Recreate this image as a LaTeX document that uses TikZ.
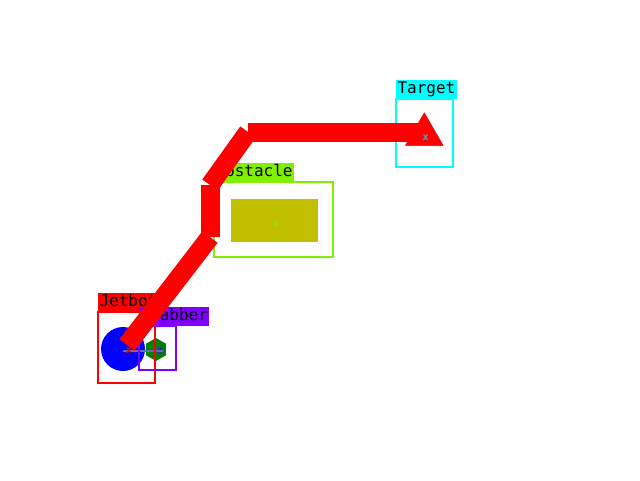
\documentclass[tikz,border=0pt]{standalone}
\usepackage{fontspec}
\newfontfamily\tagfont{DejaVu Sans Mono}
\usetikzlibrary{shapes.geometric,positioning}
\definecolor{botred}{RGB}{255,0,0}
\definecolor{grabpurple}{RGB}{128,0,255}
\definecolor{obstgreen}{RGB}{128,240,0}
\definecolor{goalcyan}{RGB}{0,255,255}
\definecolor{obstolive}{RGB}{192,192,0}
\definecolor{hexgreen}{RGB}{0,128,0}
\definecolor{linkgray}{RGB}{100,110,180}
\definecolor{goalmark}{RGB}{90,160,180}
\tikzset{
    frame/.style={
        draw=#1,
        line width=2pt,
        rectangle,
        inner sep=0pt,
        outer sep=0pt
    },
    tag/.style={
        fill=#1,
        text=black,
        font=\tagfont\fontsize{16}{16}\selectfont,
        inner xsep=1.5pt,
        inner ysep=1.5pt,
        text height=12.5pt,
        text depth=4pt,
        anchor=south west,
        outer sep=0pt
    },
    centre/.style={
        text=#1,
        font=\tagfont\bfseries\fontsize{10}{10}\selectfont,
        inner sep=0pt
    },
    route/.style={
        draw=botred,
        line width=19pt
    },
    link/.style={
        draw=linkgray,
        line width=2pt
    },
}

\begin{document}
\begin{tikzpicture}[x=1pt, y=-1pt]
    \useasboundingbox (0,0) rectangle (640,480);

    % objects
    \node[circle, fill=blue, minimum size=44pt, inner sep=0pt] (jetbot) at (123,349) {};
    \node[regular polygon, regular polygon sides=6, shape border rotate=30, fill=hexgreen, minimum size=23pt, inner sep=0pt] (grabber) at (156,349.5) {};
    \node[rectangle, fill=obstolive, minimum width=87pt, minimum height=43pt, inner sep=0pt] (obstacle) at (274.5,220.5) {};
    \node[regular polygon, regular polygon sides=3, fill=botred, minimum size=44pt, inner sep=0pt] (target) at (424.3,134.5) {};

    % centre marks
    \node[centre=botred!80!black] (jetbotmark) at (129,351) {x};
    \node[centre=grabpurple!70!blue] (grabbermark) at (160,351) {x};
    \node[centre=obstgreen] (obstaclemark) at (276,224) {x};
    \node[centre=goalmark] (targetmark) at (425.7,137.5) {x};
    \draw[link, shorten <=-6pt, shorten >=-3pt] (jetbotmark.center) -- (grabbermark.center);

    % boxes
    \node[frame=botred, minimum width=57pt, minimum height=71pt] (jetbotbox) at (126.5,347.5) {};
    \node[frame=grabpurple, minimum width=37pt, minimum height=44pt] (grabberbox) at (157.5,348) {};
    \node[frame=obstgreen, minimum width=119pt, minimum height=75pt] (obstaclebox) at (273.5,219.5) {};
    \node[frame=goalcyan, minimum width=57pt, minimum height=68pt] (targetbox) at (424.5,133) {};

    % tags
    \node[tag=botred] (jetbottag) at (jetbotbox.north west) {Jetbot};
    \node[tag=grabpurple] (grabbertag) at (grabberbox.north west) {Grabber};
    \node[tag=obstgreen] (obstacletag) at (obstaclebox.north west) {Obstacle};
    \node[tag=goalcyan] (targettag) at (targetbox.north west) {Target};

    % route
    \coordinate (w0) at (127,345);
    \coordinate (w1) at (210,237);
    \coordinate (w2) at (210,185);
    \coordinate (w3) at (248,132);
    \coordinate (w4) at (424,132);
    \draw[route] (w0) -- (w1);
    \draw[route] (w1) -- (w2);
    \draw[route] (w2) -- (w3);
    \draw[route] (w3) -- (w4);
    \node[regular polygon, regular polygon sides=3, fill=botred, minimum size=44pt, inner sep=0pt] at (target) {};

    % marks on top
    \node[centre=botred!80!black] at (jetbotmark) {x};
    \node[centre=goalmark] at (targetmark) {x};
\end{tikzpicture}
\end{document}
